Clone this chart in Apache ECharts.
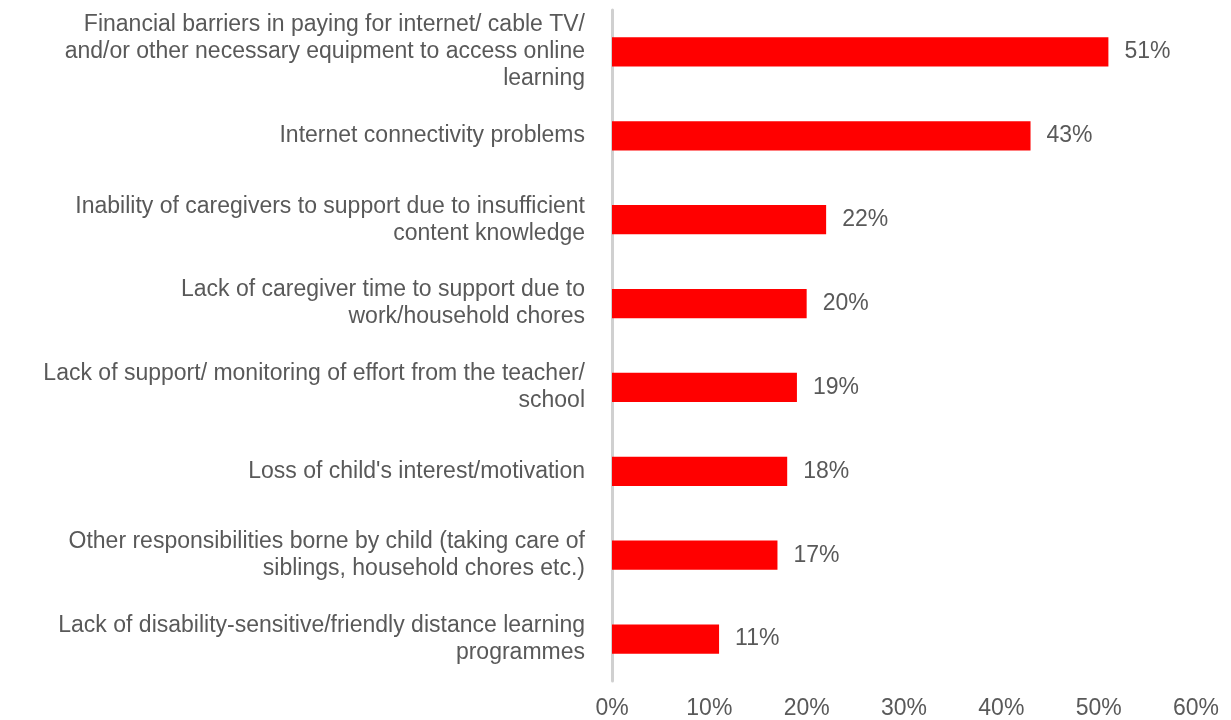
<!DOCTYPE html>
<html>
<head>
<meta charset="utf-8">
<script src="https://cdn.jsdelivr.net/npm/echarts@6/dist/echarts.min.js"></script>
<style>html,body{margin:0;padding:0;background:#fff}#c{width:1231px;height:720px}</style>
</head>
<body>
<div id="c"></div>
<script>
const categories = [
  "Financial barriers in paying for internet/ cable TV/\nand/or other necessary equipment to access online\nlearning",
  "Internet connectivity problems",
  "Inability of caregivers to support due to insufficient\ncontent knowledge",
  "Lack of caregiver time to support due to\nwork/household chores",
  "Lack of support/ monitoring of effort from the teacher/\nschool",
  "Loss of child's interest/motivation",
  "Other responsibilities borne by child (taking care of\nsiblings, household chores etc.)",
  "Lack of disability-sensitive/friendly distance learning\nprogrammes"
];
const values = [51, 43, 22, 20, 19, 18, 17, 11];
const tickValues = [0, 10, 20, 30, 40, 50, 60];

const chart = echarts.init(document.getElementById('c'));
const font = 'Liberation Sans';
chart.setOption({
  animation: false,
  grid: { left: 612, right: 35, top: 10, bottom: 39, containLabel: false },
  xAxis: {
    type: 'value', min: tickValues[0], max: tickValues[tickValues.length - 1], interval: 10,
    axisLine: { show: false }, axisTick: { show: false }, splitLine: { show: false },
    axisLabel: { formatter: v => v + '%', color: '#595959', fontSize: 23, fontFamily: font, margin: 16 }
  },
  yAxis: {
    type: 'category', data: categories, inverse: true,
    axisLine: { show: true, lineStyle: { color: '#d0d0d0', width: 3 } },
    axisTick: { show: false },
    axisLabel: { color: '#595959', fontSize: 23, fontFamily: font, lineHeight: 27, margin: 27, align: 'right' }
  },
  series: [{
    type: 'bar', data: values, barWidth: '35%',
    itemStyle: { color: '#ff0000' },
    label: { show: true, position: 'right', distance: 16, formatter: p => p.value + '%', color: '#595959', fontSize: 23, fontFamily: font }
  }]
});
</script>
</body>
</html>
